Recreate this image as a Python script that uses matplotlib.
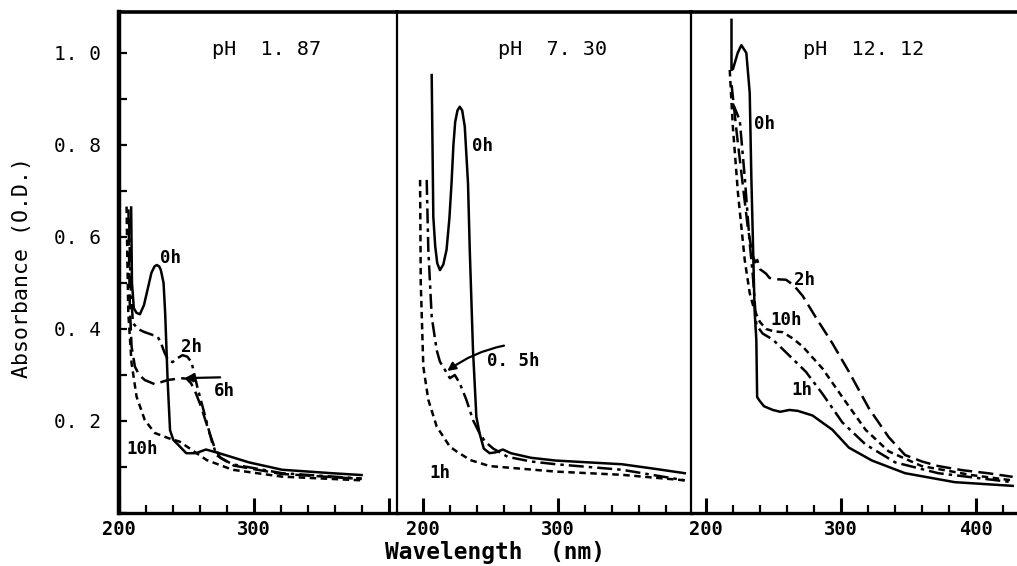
import matplotlib
matplotlib.use("Agg")
import matplotlib.pyplot as plt
from matplotlib.ticker import MultipleLocator, FixedLocator, FixedFormatter

plt.rcParams['font.family'] = ['DejaVu Sans Mono']

# ---- pH 1.87 ----
p1_0h_x = [209.0, 209.6, 211.0, 213.0, 215.5, 218.5, 221.5, 224.0, 226.3, 228.0, 229.8, 231.0, 233.0,
           234.2, 236.0, 237.8, 240.2, 243.6, 249.8, 257.0, 264.4, 274.2, 296.3, 320.8, 357.6, 379.7]
p1_0h_y = [0.664, 0.50, 0.445, 0.435, 0.432, 0.452, 0.49, 0.522, 0.536, 0.539, 0.536, 0.528, 0.50,
           0.434, 0.289, 0.18, 0.159, 0.149, 0.130, 0.130, 0.138, 0.130, 0.110, 0.094, 0.0865, 0.0825]
p1_2h_x = [207.5, 208.5, 210.3, 214.0, 219.1, 224.0, 228.7, 231.0, 233.8, 236.5, 239.7, 243.0, 247.0,
           250.5, 253.7, 258.0, 263.2, 269.1, 272.5, 283.8, 320.8, 379.7]
p1_2h_y = [0.64, 0.50, 0.413, 0.40, 0.393, 0.388, 0.383, 0.37, 0.348, 0.332, 0.328, 0.336, 0.343,
           0.34, 0.328, 0.274, 0.217, 0.152, 0.125, 0.106, 0.0865, 0.075]
p1_6h_x = [207.0, 208.0, 209.3, 211.8, 215.0, 219.1, 226.5, 236.0, 246.0, 250.0, 253.4, 257.0, 260.8,
           267.0, 270.6, 275.0, 285.0, 320.0, 379.7]
p1_6h_y = [0.66, 0.45, 0.362, 0.318, 0.30, 0.289, 0.280, 0.289, 0.293, 0.292, 0.282, 0.26, 0.231,
           0.174, 0.144, 0.12, 0.103, 0.085, 0.074]
p1_10h_x = [205.6, 206.2, 206.9, 209.3, 213.0, 219.1, 226.5, 236.3, 245.0, 255.0, 265.0, 284.0, 320.8, 379.7]
p1_10h_y = [0.666, 0.55, 0.434, 0.326, 0.253, 0.202, 0.174, 0.163, 0.155, 0.135, 0.115, 0.094, 0.079, 0.071]

# ---- pH 7.30 ----
p2_0h_x = [206.4, 207.6, 209.0, 210.5, 212.5, 215.0, 217.4, 219.5, 221.1, 222.5, 223.8, 225.5, 227.2,
           229.0, 230.9, 233.3, 234.6, 237.0, 239.5, 241.9, 245.0, 249.3, 254.0, 259.1, 265.0, 280.0,
           298.3, 347.3, 371.8, 393.9]
p2_0h_y = [0.952, 0.644, 0.58, 0.543, 0.528, 0.54, 0.572, 0.64, 0.717, 0.80, 0.85, 0.875, 0.883,
           0.875, 0.840, 0.717, 0.572, 0.354, 0.209, 0.173, 0.14, 0.130, 0.132, 0.138, 0.13, 0.12,
           0.114, 0.106, 0.096, 0.0865]
p2_05h_x = [202.7, 203.9, 206.4, 210.1, 212.5, 216.2, 219.9, 223.5, 227.2, 232.1, 237.0, 241.9, 246.0,
            252.0, 262.7, 280.0, 298.3, 347.3, 393.9]
p2_05h_y = [0.724, 0.572, 0.427, 0.354, 0.329, 0.311, 0.293, 0.300, 0.282, 0.246, 0.202, 0.173, 0.155,
            0.14, 0.122, 0.112, 0.106, 0.094, 0.071]
p2_1h_x = [197.8, 198.3, 200.2, 203.9, 210.1, 219.9, 224.8, 235.0, 249.3, 298.3, 347.3, 393.9]
p2_1h_y = [0.724, 0.50, 0.318, 0.246, 0.188, 0.144, 0.134, 0.115, 0.102, 0.090, 0.083, 0.071]

# ---- pH 12.12 ----
p3_0h_x = [218.9, 218.9, 220.0, 221.3, 223.5, 226.2, 229.9, 232.4, 233.6, 234.8, 236.0, 237.3, 237.9,
           239.7, 243.0, 249.5, 255.0, 261.8, 268.0, 278.9, 293.6, 305.9, 323.0, 347.5, 384.3, 427.2]
p3_0h_y = [1.072, 0.963, 0.965, 0.978, 1.0, 1.017, 1.0, 0.913, 0.73, 0.587, 0.441, 0.376, 0.252,
           0.244, 0.232, 0.224, 0.22, 0.224, 0.222, 0.212, 0.181, 0.142, 0.114, 0.0865, 0.067, 0.059]
p3_2h_x = [219.0, 223.0, 227.0, 231.0, 234.5, 236.5, 238.0, 240.0, 244.6, 247.0, 253.0, 259.3, 265.0,
           271.6, 281.4, 293.6, 305.9, 320.6, 335.3, 347.5, 360.0, 372.1, 390.0, 408.8, 427.2]
p3_2h_y = [0.93, 0.82, 0.72, 0.62, 0.56, 0.545, 0.55, 0.53, 0.52, 0.511, 0.508, 0.507, 0.495,
           0.472, 0.425, 0.369, 0.307, 0.228, 0.165, 0.126, 0.112, 0.102, 0.093, 0.0865, 0.0786]
p3_10h_x = [217.6, 219.9, 223.7, 228.7, 232.4, 235.0, 237.3, 240.0, 244.6, 250.0, 256.8, 264.0, 271.6,
            286.3, 301.0, 318.2, 335.3, 359.8, 396.6, 427.2]
p3_10h_y = [0.963, 0.84, 0.695, 0.55, 0.478, 0.45, 0.432, 0.415, 0.40, 0.395, 0.393, 0.38, 0.362,
            0.314, 0.252, 0.181, 0.134, 0.102, 0.0825, 0.0708]
p3_1h_x = [219.9, 225.0, 228.7, 232.4, 234.8, 237.3, 242.0, 249.5, 261.8, 274.0, 286.3, 301.0, 318.2,
           340.2, 372.1, 427.2]
p3_1h_y = [0.89, 0.854, 0.73, 0.587, 0.513, 0.409, 0.39, 0.377, 0.342, 0.307, 0.259, 0.197, 0.149,
           0.110, 0.0865, 0.0668]

titles = ["pH  1. 87", "pH  7. 30", "pH  12. 12"]
ytick_vals = [0.2, 0.4, 0.6, 0.8, 1.0]
ytick_labels = ["0. 2", "0. 4", "0. 6", "0. 8", "1. 0"]
xlabels_1 = ["200", "300", ""]
xlabels_2 = ["200", "300", ""]
xlabels_3 = ["200", "300", "400"]

SOLID = "-"
LONG = (0, (6, 2.5))
SHORT = (0, (2.6, 1.8))
DASHDOT = (0, (6, 2, 1.4, 2))

W, H = 1017, 566
fig = plt.figure(figsize=(W / 100, H / 100), dpi=100)
bot, top = (H - 513) / H, 501 / H
ax1 = fig.add_axes([119 / W, bot, 278 / W, top])
ax2 = fig.add_axes([397 / W, bot, 294 / W, top])
ax3 = fig.add_axes([691 / W, bot, 326 / W, top])

xlims = [(200, 405.9), (180.7, 398.5), (188.9, 430.4)]
xtl = [xlabels_1, xlabels_2, xlabels_3]
for ax, xl, labs, t in zip([ax1, ax2, ax3], xlims, xtl, titles):
    ax.set_xlim(*xl)
    ax.set_ylim(0, 1.089)
    ax.xaxis.set_major_locator(FixedLocator([200, 300, 400]))
    ax.xaxis.set_major_formatter(FixedFormatter(labs))
    ax.xaxis.set_minor_locator(MultipleLocator(20))
    ax.tick_params(axis="x", which="major", direction="in", length=11, width=2.2,
                   labelsize=13.5, pad=5)
    ax.tick_params(axis="x", which="minor", direction="in", length=6, width=1.6)
    ax.tick_params(axis="x", which="both", top=False)
    for lab in ax.get_xticklabels():
        lab.set_fontweight("bold")
    ax.spines["top"].set_linewidth(2.6)
    ax.spines["bottom"].set_linewidth(2.4)
    ax.spines["right"].set_visible(False)
    ax.spines["left"].set_linewidth(1.6)
    ax.set_yticks([])
    ax.text(sum(xl) / 2 + (xl[1] - xl[0]) * 0.03, 1.008, t, ha="center", va="center", fontsize=14.5)

ax1.spines["left"].set_linewidth(3.2)
ax1.set_yticks(ytick_vals)
ax1.set_yticklabels(ytick_labels)
ax1.yaxis.set_minor_locator(MultipleLocator(0.1))
ax1.tick_params(axis="y", which="both", direction="in", length=6, width=1.6, labelsize=14, pad=13)

lw = 1.8
ax1.plot(p1_10h_x, p1_10h_y, color="k", lw=lw, ls=SHORT)
ax1.plot(p1_6h_x, p1_6h_y, color="k", lw=lw, ls=LONG)
ax1.plot(p1_2h_x, p1_2h_y, color="k", lw=lw, ls=DASHDOT)
ax1.plot(p1_0h_x, p1_0h_y, color="k", lw=lw, ls=SOLID)

ax2.plot(p2_1h_x, p2_1h_y, color="k", lw=lw, ls=SHORT)
ax2.plot(p2_05h_x, p2_05h_y, color="k", lw=lw, ls=DASHDOT)
ax2.plot(p2_0h_x, p2_0h_y, color="k", lw=lw, ls=SOLID)

ax3.plot(p3_10h_x, p3_10h_y, color="k", lw=lw, ls=SHORT)
ax3.plot(p3_1h_x, p3_1h_y, color="k", lw=lw, ls=DASHDOT)
ax3.plot(p3_2h_x, p3_2h_y, color="k", lw=lw, ls=LONG)
ax3.plot(p3_0h_x, p3_0h_y, color="k", lw=lw, ls=SOLID)

lab = dict(fontsize=12.5, fontweight="bold", ha="center", va="center")
ax1.text(238, 0.554, "0h", **lab)
ax1.text(254, 0.36, "2h", **lab)
ax1.text(278, 0.265, "6h", **lab)
ax1.text(217, 0.139, "10h", **lab)
ax1.annotate("", xy=(246.5, 0.293), xytext=(277, 0.295),
             arrowprops=dict(arrowstyle="-|>", color="k", lw=1.6, mutation_scale=12))

ax2.text(244, 0.798, "0h", **lab)
ax2.text(267, 0.33, "0. 5h", **lab)
ax2.text(212.5, 0.0865, "1h", **lab)
ax2.annotate("", xy=(216.3, 0.305), xytext=(262, 0.365),
             arrowprops=dict(arrowstyle="-|>", color="k", lw=1.6, mutation_scale=12,
                             connectionstyle="arc3,rad=0.12"))

ax3.text(243.5, 0.845, "0h", **lab)
ax3.text(273, 0.507, "2h", **lab)
ax3.text(259, 0.42, "10h", **lab)
ax3.text(271, 0.267, "1h", **lab)

fig.text(22 / W, 1 - 268 / H, "Absorbance (O.D.)", rotation=90, ha="center", va="center", fontsize=15.5)
fig.text(495 / W, 1 - 553 / H, "Wavelength  (nm)", ha="center", va="center", fontsize=16.5,
         fontweight="bold")

fig.savefig("out.png", dpi=100)
